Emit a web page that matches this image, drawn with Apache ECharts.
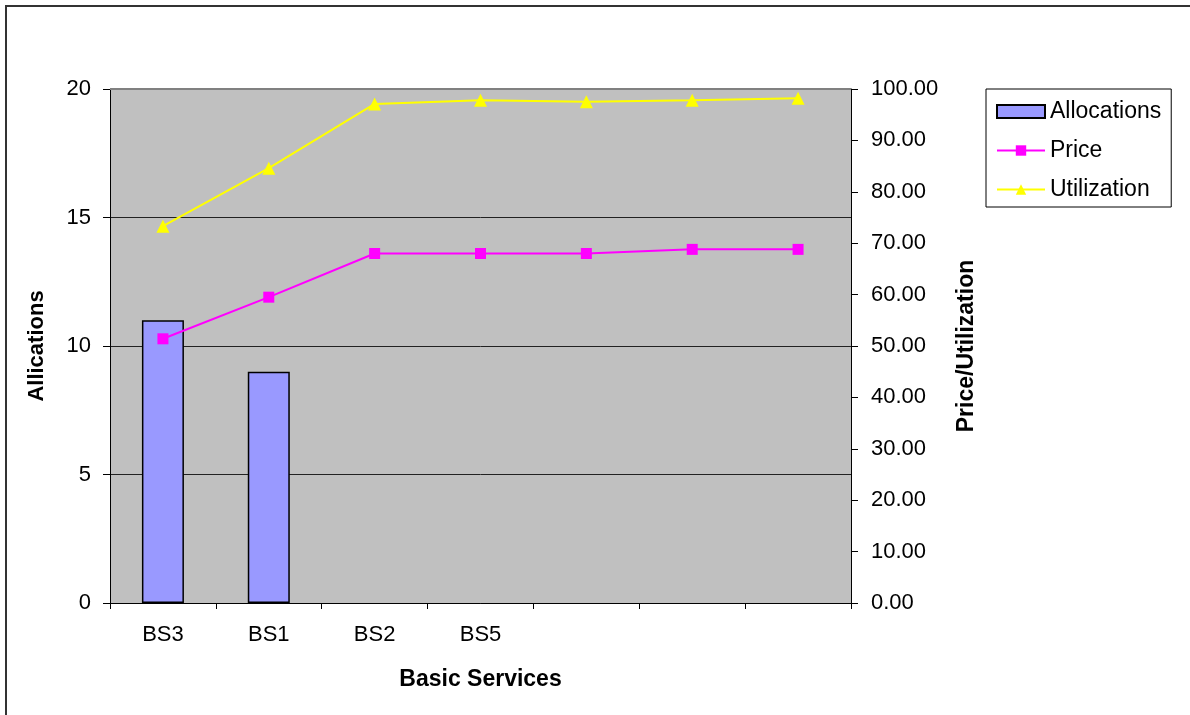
<!DOCTYPE html>
<html>
<head>
<meta charset="utf-8">
<script src="https://cdn.jsdelivr.net/npm/echarts@6/dist/echarts.min.js"></script>
<style>
  html, body { margin: 0; padding: 0; background: #fff; }
  #chart { width: 1190px; height: 715px; }
</style>
</head>
<body>
<div id="chart"></div>
<script>
// data
var categories = ['BS3', 'BS1', 'BS2', 'BS5', '', ' ', '  '];
var allocations = [11, 9, null, null, null, null, null];
var price = [51.4, 59.5, 68.0, 68.0, 68.0, 68.8, 68.8];
var utilization = [73.3, 84.6, 97.1, 97.8, 97.5, 97.8, 98.2];

var myChart = echarts.init(document.getElementById('chart'));

var font = 'Liberation Sans, Arial, sans-serif';

var option = {
  animation: false,
  backgroundColor: '#fff',
  textStyle: { fontFamily: font, color: '#000' },
  graphic: [
    // outer chart border, runs off the right and bottom edges
    {
      type: 'rect',
      shape: { x: 6, y: 6, width: 1250, height: 800 },
      style: { fill: 'none', stroke: '#333', lineWidth: 2 },
      silent: true
    },
    // grey top edge of the plot area
    {
      type: 'line',
      shape: { x1: 110, y1: 89, x2: 851, y2: 89 },
      style: { stroke: '#808080', lineWidth: 2 },
      z: 10
    }
  ],
  grid: {
    left: 110,
    right: 339,
    top: 89,
    bottom: 112,
    show: true,
    backgroundColor: '#C0C0C0',
    borderWidth: 0
  },
  legend: {
    orient: 'vertical',
    left: 986,
    top: 89,
    padding: [11, 10, 6, 10],
    itemGap: 16,
    itemWidth: 48,
    itemHeight: 13,
    borderColor: '#000',
    borderWidth: 1,
    textStyle: { fontSize: 23, fontFamily: font, color: '#000' },
    data: [
      { name: 'Allocations', icon: 'rect' },
      { name: 'Price' },
      { name: 'Utilization' }
    ]
  },
  xAxis: {
    type: 'category',
    data: categories,
    boundaryGap: true,
    name: 'Basic Services',
    nameLocation: 'middle',
    nameGap: 65,
    nameTextStyle: { fontSize: 23, fontWeight: 'bold', color: '#000', fontFamily: font },
    axisLine: { lineStyle: { color: '#000', width: 1 } },
    axisTick: { show: true, alignWithLabel: false, length: 6, lineStyle: { color: '#000' } },
    axisLabel: { fontSize: 22, color: '#000', margin: 21, interval: 0 },
    splitLine: { show: false }
  },
  yAxis: [
    {
      type: 'value',
      min: 0,
      max: 20,
      interval: 5,
      name: 'Allications',
      nameLocation: 'middle',
      nameGap: 62,
      nameTextStyle: { fontSize: 22, fontWeight: 'bold', color: '#000', fontFamily: font },
      axisLine: { show: true, lineStyle: { color: '#000', width: 1 } },
      axisTick: { show: true, length: 7, lineStyle: { color: '#000' } },
      axisLabel: { fontSize: 22, color: '#000', margin: 19 },
      splitLine: { show: true, lineStyle: { color: '#222', width: 1 } }
    },
    {
      type: 'value',
      min: 0,
      max: 100,
      interval: 10,
      position: 'right',
      name: 'Price/Utilization',
      nameLocation: 'middle',
      nameGap: 104,
      nameRotate: 90,
      nameTextStyle: { fontSize: 23, fontWeight: 'bold', color: '#000', fontFamily: font },
      axisLine: { show: true, lineStyle: { color: '#000', width: 1 } },
      axisTick: { show: true, length: 7, lineStyle: { color: '#000' } },
      axisLabel: {
        fontSize: 22,
        color: '#000',
        margin: 20,
        formatter: function (v) { return v.toFixed(2); }
      },
      splitLine: { show: false }
    }
  ],
  series: [
    {
      name: 'Allocations',
      type: 'bar',
      yAxisIndex: 0,
      data: allocations,
      barWidth: 42,
      itemStyle: { color: '#9999FF', borderColor: '#000', borderWidth: 1.5 }
    },
    {
      name: 'Price',
      type: 'line',
      yAxisIndex: 1,
      data: price,
      symbol: 'rect',
      symbolSize: 11,
      lineStyle: { color: '#FF00FF', width: 2 },
      itemStyle: { color: '#FF00FF' }
    },
    {
      name: 'Utilization',
      type: 'line',
      yAxisIndex: 1,
      data: utilization,
      symbol: 'triangle',
      symbolSize: 13,
      lineStyle: { color: '#FFFF00', width: 2 },
      itemStyle: { color: '#FFFF00' }
    }
  ]
};

myChart.setOption(option);
</script>
</body>
</html>
